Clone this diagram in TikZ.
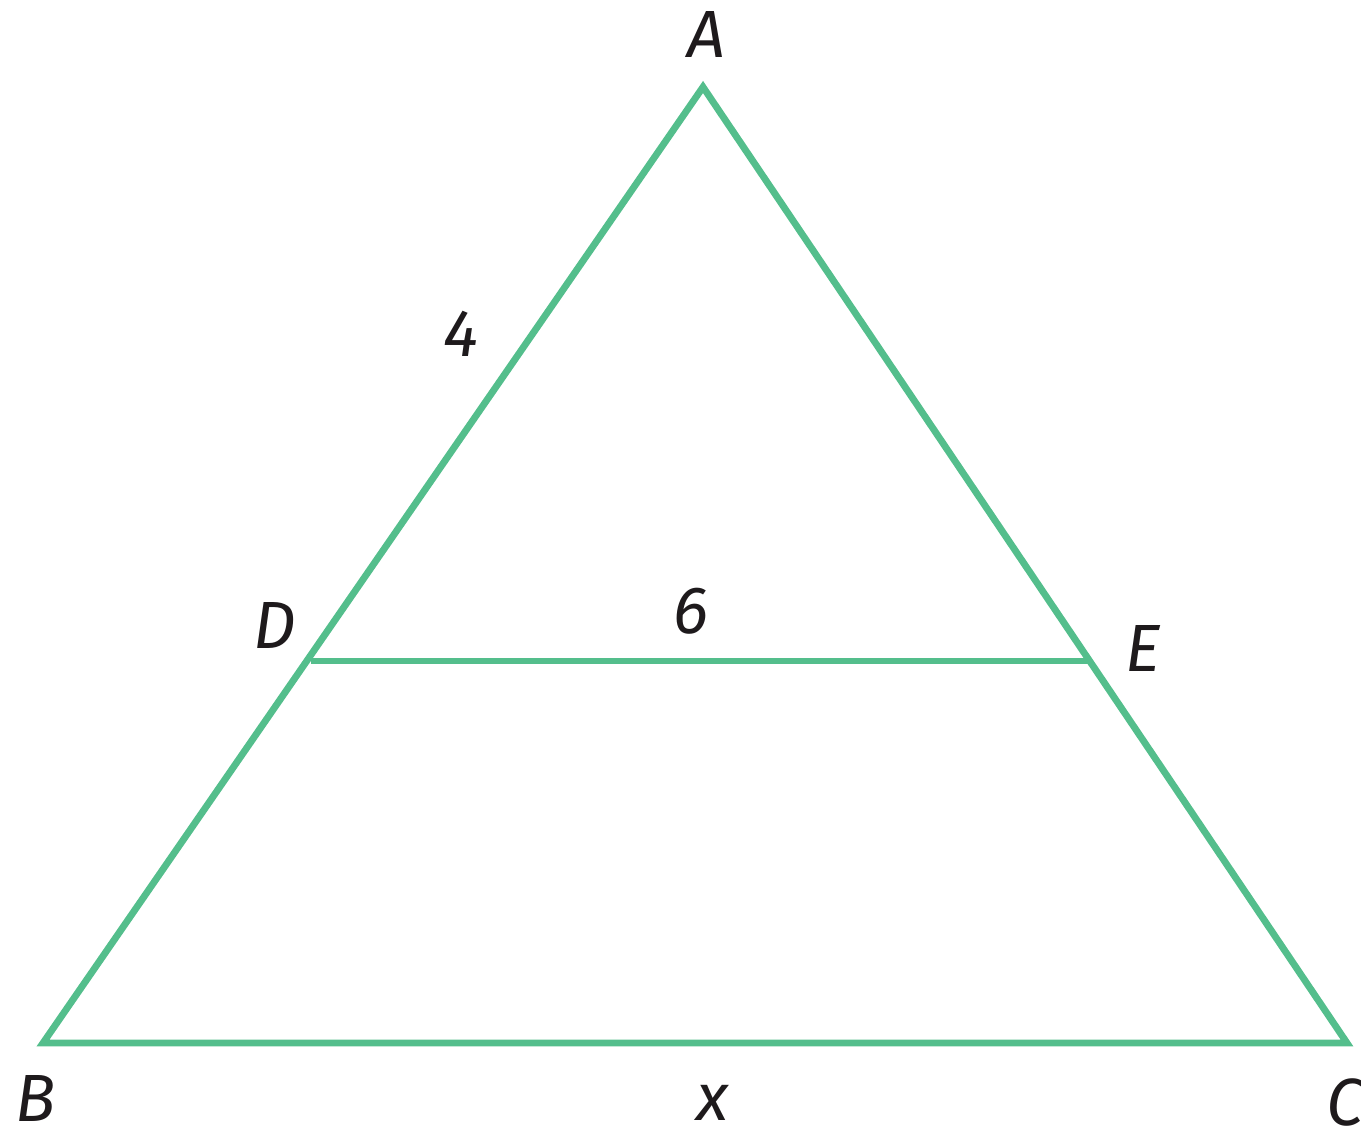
\documentclass[tikz,border=0pt]{standalone}
\usepackage{fontspec}
\setmainfont{Fira Sans}
\definecolor{figG}{RGB}{84,190,140}
\definecolor{figK}{RGB}{30,26,28}

\begin{document}
\begin{tikzpicture}[x=0.02cm,y=-0.02cm,
  side/.style={figG,line width=3.9pt,line join=miter},
  lbl/.style={figK,font=\fontsize{38}{40}\selectfont\itshape,inner sep=0pt}]
\useasboundingbox (0,0) rectangle (1361,1137);
% vertices
\coordinate (A) at (703,87);
\coordinate (B) at (43,1043);
\coordinate (C) at (1347,1043);
\coordinate (D) at (311,661);
\coordinate (E) at (1088,661);
% triangle and parallel segment
\draw[side] (A)--(B)--(C)--cycle;
\draw[side] (D)--(E);
% vertex labels
\node[lbl] (lA) at (706,34) {A};
\node[lbl] (lB) at (36,1098) {B};
\node[lbl,anchor=west] (lC) at (1326,1102) {C};
\node[lbl] (lD) at (275,625) {D};
\node[lbl] (lE) at (1143,648) {E};
% lengths
\node[lbl] (l4) at (461,334) {4};
\node[lbl] (l6) at (691,611) {6};
\node[lbl] (lx) at (713,1103) {x};
\end{tikzpicture}
\end{document}
